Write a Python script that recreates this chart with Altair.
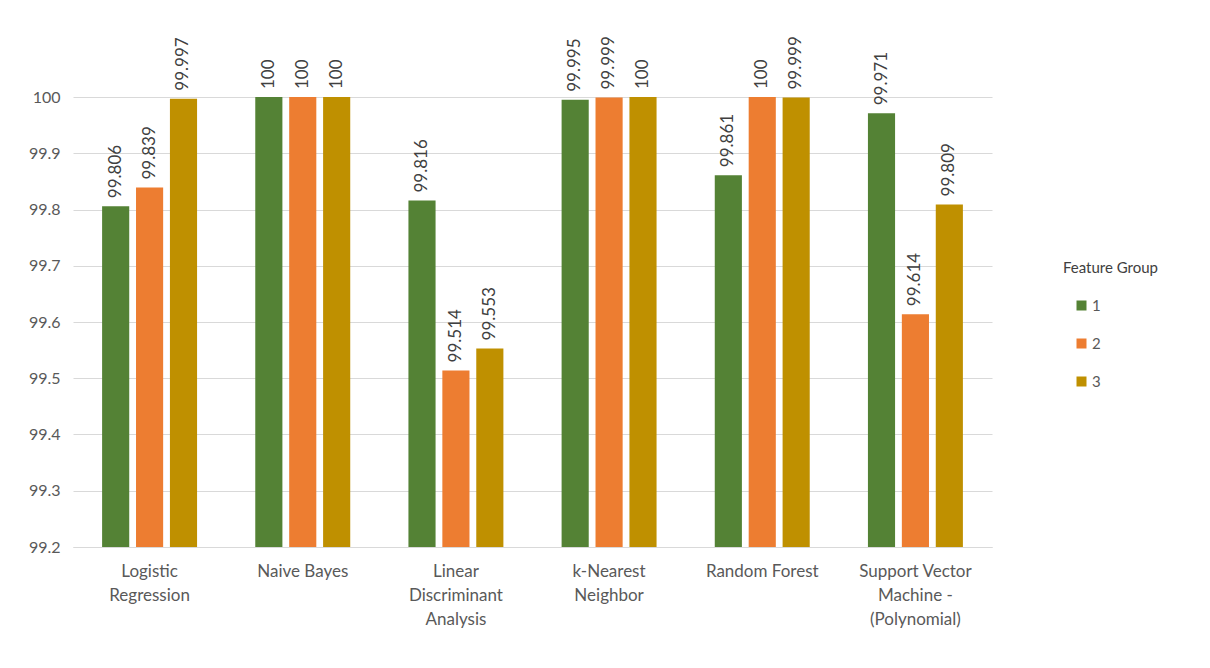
import altair as alt
import pandas as pd

# Classifier accuracy (%) by feature group
models = [
    "Logistic Regression",
    "Naive Bayes",
    "Linear Discriminant Analysis",
    "k-Nearest Neighbor",
    "Random Forest",
    "Support Vector Machine - (Polynomial)",
]
model_lines = [
    ["Logistic", "Regression"],
    ["Naive Bayes"],
    ["Linear", "Discriminant", "Analysis"],
    ["k-Nearest", "Neighbor"],
    ["Random Forest"],
    ["Support Vector", "Machine -", "(Polynomial)"],
]
groups = ["1", "2", "3"]
group1 = [99.806, 100, 99.816, 99.995, 99.861, 99.971]
group2 = [99.839, 100, 99.514, 99.999, 100, 99.614]
group3 = [99.997, 100, 99.553, 100, 99.999, 99.809]
y_ticks = [99.2, 99.3, 99.4, 99.5, 99.6, 99.7, 99.8, 99.9, 100.0]
y_min, y_max = 99.2, 100.0
colors = ["#548235", "#ED7D31", "#BF9000"]

rows = []
for g, vals in zip(groups, [group1, group2, group3]):
    for m, v in zip(models, vals):
        rows.append({"Model": m, "Feature Group": g, "Accuracy": v})
df = pd.DataFrame(rows)

# multi-line category labels
label_expr = ""
for m, lines in zip(models, model_lines):
    arr = "[" + ",".join("'" + s + "'" for s in lines) + "]"
    label_expr += f"datum.value == '{m}' ? {arr} : "
label_expr += "datum.value"

font = "Lato"

x = alt.X(
    "Model:N",
    sort=models,
    title=None,
    scale=alt.Scale(paddingInner=0.38, paddingOuter=0.19),
    axis=alt.Axis(
        labelAngle=0,
        labelExpr=label_expr,
        labelFontSize=17,
        labelColor="#595959",
        labelFont=font,
        labelLineHeight=24,
        labelPadding=16,
        labelLimit=0,
        labelOverlap=False,
        domain=True,
        domainColor="#d9d9d9",
        ticks=False,
        grid=False,
    ),
)
xo = alt.XOffset(
    "Feature Group:N",
    sort=groups,
    scale=alt.Scale(paddingInner=0.2, paddingOuter=0),
)
y = alt.Y(
    "Accuracy:Q",
    title=None,
    scale=alt.Scale(domain=[y_min, y_max], zero=False, nice=False),
    axis=alt.Axis(
        values=y_ticks,
        format="~f",
        labelFontSize=16,
        labelColor="#595959",
        labelFont=font,
        labelPadding=13,
        domain=False,
        ticks=False,
        grid=True,
        gridColor="#d9d9d9",
        gridWidth=1,
    ),
)

bars = alt.Chart(df).mark_bar().encode(
    x=x,
    xOffset=xo,
    y=y,
    y2=alt.datum(y_min),
    color=alt.Color(
        "Feature Group:N",
        sort=groups,
        scale=alt.Scale(domain=groups, range=colors),
        legend=alt.Legend(
            title="Feature Group",
            orient="none",
            legendX=990,
            legendY=164,
            symbolType="square",
            symbolSize=100,
            symbolStrokeWidth=0,
            symbolOffset=11,
            labelOffset=3,
            labelFontSize=15,
            labelFont=font,
            labelColor="#595959",
            titleFontSize=15,
            titleFont=font,
            titleFontWeight="normal",
            titleColor="#404040",
            titlePadding=22,
            rowPadding=22,
        ),
    ),
)

labels = alt.Chart(df).mark_text(
    angle=270,
    align="left",
    baseline="middle",
    dx=8,
    fontSize=17,
    font=font,
    color="#404040",
).encode(
    x=alt.X("Model:N", sort=models),
    xOffset=xo,
    y=alt.Y("Accuracy:Q"),
    text=alt.Text("Accuracy:Q", format=".3~f"),
)

chart = (
    alt.layer(bars, labels)
    .properties(
        width=919,
        height=450,
        background="white",
        autosize=alt.AutoSizeParams(type="none"),
        padding={"left": 73, "top": 97, "right": 218, "bottom": 121},
    )
    .configure_view(strokeWidth=0)
)

chart.save("out.html", embed_options={"renderer": "svg", "actions": False})
